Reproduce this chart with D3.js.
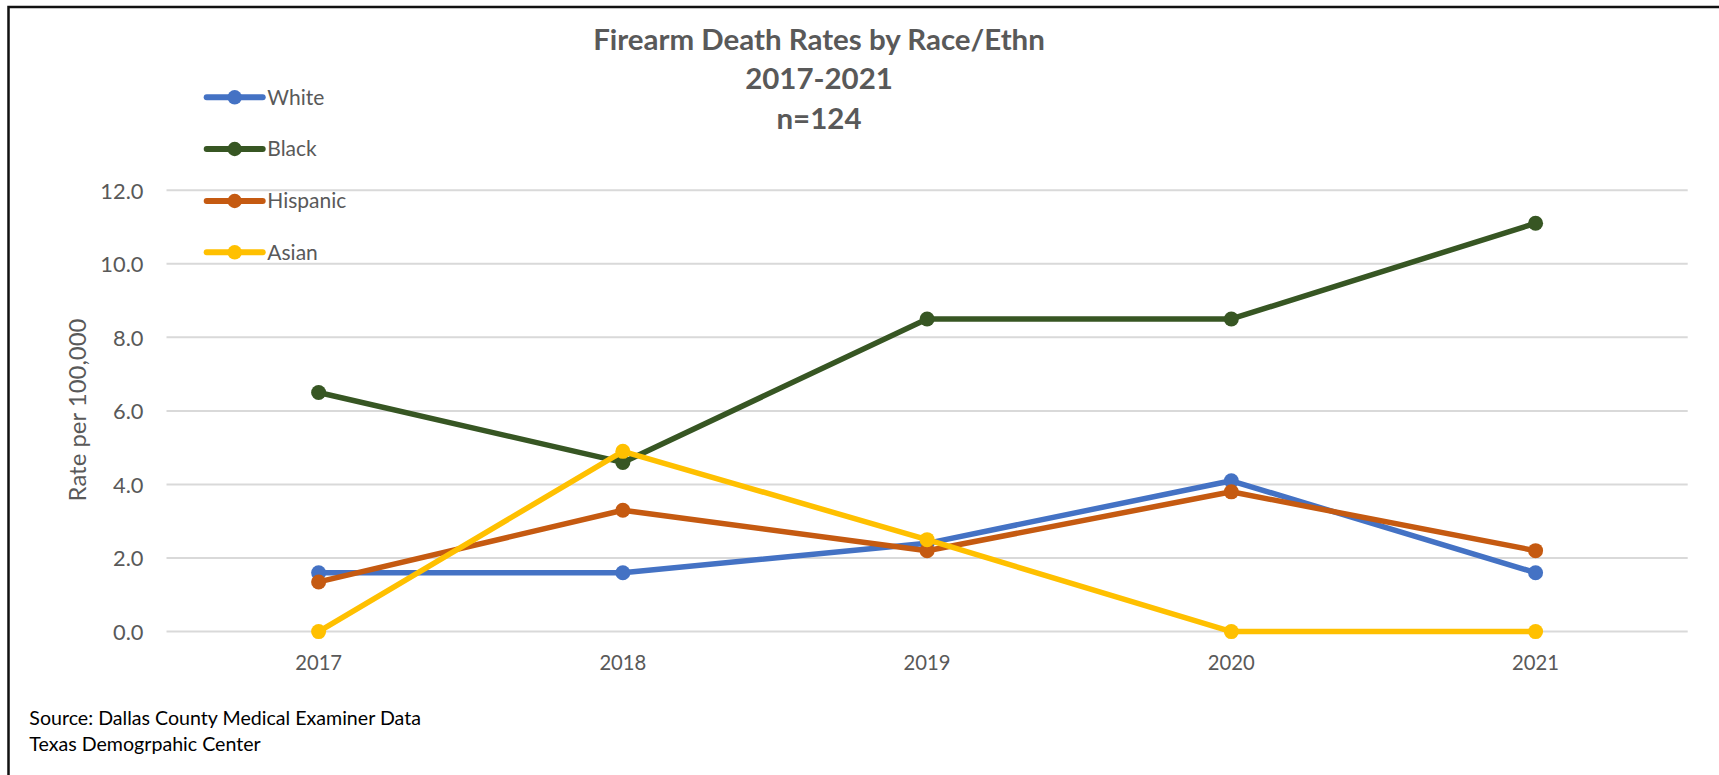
<!DOCTYPE html>
<html>
<head>
<meta charset="utf-8">
<script src="https://cdn.jsdelivr.net/npm/d3@7"></script>
<style>
  html, body { margin: 0; padding: 0; background: #fff; overflow: hidden; }
  svg { display: block; }
  text { font-family: Lato, "Open Sans", sans-serif; }
</style>
</head>
<body>
<svg id="chart" width="1719" height="775"></svg>
<script>
// ---- data ----
const years = ["2017", "2018", "2019", "2020", "2021"];
const seriesNames = ["White", "Black", "Hispanic", "Asian"];
const whiteValues = [1.6, 1.6, 2.4, 4.1, 1.6];
const blackValues = [6.5, 4.6, 8.5, 8.5, 11.1];
const hispanicValues = [1.35, 3.3, 2.2, 3.8, 2.2];
const asianValues = [0, 4.9, 2.5, 0, 0];
const yTicks = [0, 2, 4, 6, 8, 10, 12];
const titleLines = ["Firearm Death Rates by Race/Ethn", "2017-2021", "n=124"];
const yAxisTitle = "Rate per 100,000";
const sourceLines = ["Source: Dallas County Medical Examiner Data", "Texas Demogrpahic Center"];

// ---- styles ----
const colors = { White: "#4472C4", Black: "#375623", Hispanic: "#C55A11", Asian: "#FFC000" };
const series = [
  { name: "White", values: whiteValues },
  { name: "Black", values: blackValues },
  { name: "Hispanic", values: hispanicValues },
  { name: "Asian", values: asianValues }
];

const svg = d3.select("#chart");

// fit a set of text nodes so a reference node matches target width
function fit(sel, refNode, target, base) {
  const w = refNode.getComputedTextLength();
  const size = base * target / w;
  sel.style("font-size", size + "px");
  return size;
}

// chart border
svg.append("rect")
  .attr("x", 8.5).attr("y", 7)
  .attr("width", 1800).attr("height", 900)
  .attr("fill", "none").attr("stroke", "#111").attr("stroke-width", 2.5);

const plot = { left: 166.5, right: 1687.7, top: 190.2, bottom: 631.6 };

const x = d3.scaleBand().domain(years).range([plot.left, plot.right]).padding(0);
const y = d3.scaleLinear().domain([0, 12]).range([plot.bottom, plot.top]);
const cx = d => x(d) + x.bandwidth() / 2;

// gridlines
svg.append("g").selectAll("line").data(yTicks).join("line")
  .attr("x1", plot.left).attr("x2", plot.right)
  .attr("y1", d => y(d)).attr("y2", d => y(d))
  .attr("stroke", "#D9D9D9").attr("stroke-width", 2);

// y axis labels
const yAxis = svg.append("g")
  .attr("transform", `translate(143.5,0)`)
  .call(d3.axisLeft(y).tickValues(yTicks).tickFormat(d3.format(".1f")).tickSize(0).tickPadding(0));
yAxis.select(".domain").remove();
yAxis.selectAll("text")
  .attr("fill", "#595959").attr("dy", "0.36em").attr("x", 0)
  .style("font-size", "23px");
fit(yAxis.selectAll("text"), yAxis.selectAll("text").nodes()[3], 30.5, 23);

// x axis labels
const xAxis = svg.append("g")
  .attr("transform", `translate(0,${plot.bottom})`)
  .call(d3.axisBottom(x).tickSize(0).tickPadding(0));
xAxis.select(".domain").remove();
xAxis.selectAll("text")
  .attr("fill", "#595959").attr("y", 38.5).attr("dy", 0)
  .style("font-size", "23px");
fit(xAxis.selectAll("text"), xAxis.selectAll("text").nodes()[0], 47, 23);

// lines
const line = d3.line().x((d, i) => cx(years[i])).y(d => y(d));
const sg = svg.append("g").selectAll("g").data(series).join("g");
sg.append("path")
  .attr("d", d => line(d.values))
  .attr("fill", "none")
  .attr("stroke", d => colors[d.name])
  .attr("stroke-width", 5.5)
  .attr("stroke-linejoin", "round")
  .attr("stroke-linecap", "round");
sg.selectAll("circle").data(d => d.values.map((v, i) => ({ v, i, name: d.name }))).join("circle")
  .attr("cx", d => cx(years[d.i]))
  .attr("cy", d => y(d.v))
  .attr("r", 7.5)
  .attr("fill", d => colors[d.name]);

// legend
const legendRows = [97.3, 149, 201, 252.3];
const lg = svg.append("g").selectAll("g").data(seriesNames).join("g")
  .attr("transform", (d, i) => `translate(0,${legendRows[i]})`);
lg.append("line")
  .attr("x1", 206.7).attr("x2", 262.7).attr("y1", 0).attr("y2", 0)
  .attr("stroke", d => colors[d]).attr("stroke-width", 6).attr("stroke-linecap", "round");
lg.append("circle").attr("cx", 234.7).attr("cy", 0).attr("r", 7.2).attr("fill", d => colors[d]);
const lgText = lg.append("text")
  .attr("x", 267.3).attr("y", 0).attr("dy", "0.35em")
  .attr("fill", "#595959").style("font-size", "23px")
  .text(d => d);
fit(lgText, lgText.nodes()[0], 57, 23);

// title
const titleBaselines = [50, 89.3, 128.7];
const tt = svg.append("g").selectAll("text").data(titleLines).join("text")
  .attr("x", 819).attr("y", (d, i) => titleBaselines[i])
  .attr("text-anchor", "middle")
  .attr("fill", "#595959").style("font-weight", "bold").style("font-size", "28px")
  .text(d => d);
fit(tt, tt.nodes()[0], 452, 28);

// y axis title
const yt = svg.append("text")
  .attr("transform", "translate(86,410) rotate(-90)")
  .attr("text-anchor", "middle")
  .attr("fill", "#595959").style("font-size", "26px")
  .text(yAxisTitle);
fit(yt, yt.node(), 183, 26);

// source
const src = svg.append("g").selectAll("text").data(sourceLines).join("text")
  .attr("x", 29.3).attr("y", (d, i) => [725, 750.7][i])
  .attr("fill", "#000").style("font-size", "20px")
  .text(d => d);
fit(src, src.nodes()[0], 392, 20);
</script>
</body>
</html>
